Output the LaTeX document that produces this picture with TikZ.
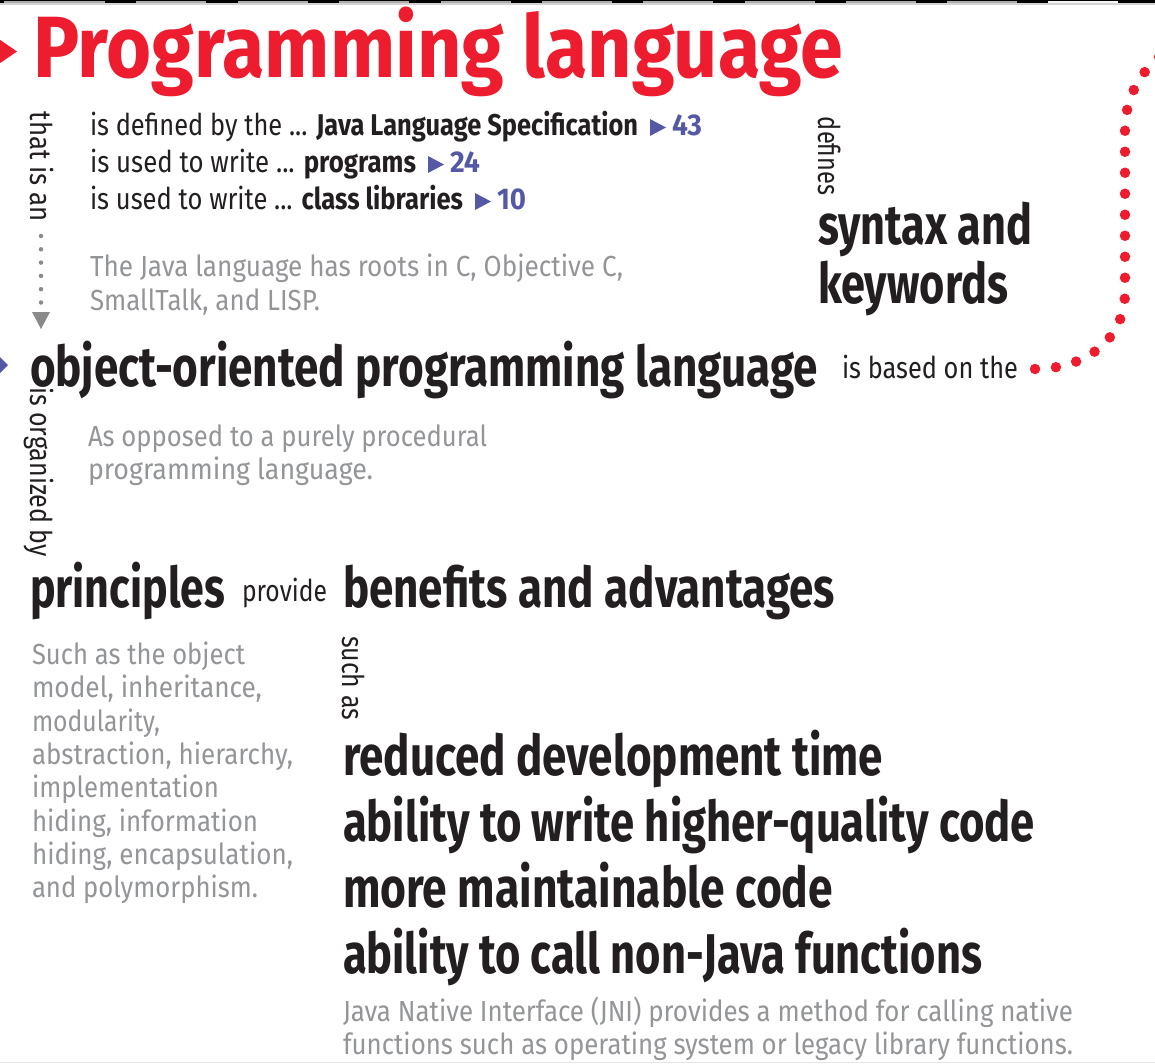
\documentclass[tikz,border=0pt]{standalone}
\usepackage{fontspec}
\setmainfont{Fira Sans}
\usepackage{graphicx}
\usetikzlibrary{calc}
\definecolor{ink}{HTML}{231F20}
\definecolor{jred}{HTML}{ED1C2E}
\definecolor{jblue}{HTML}{5558A5}
\definecolor{greytxt}{HTML}{939598}
\definecolor{dotgrey}{HTML}{8A8A8A}
\newcommand{\fw}[2]{\resizebox{#1pt}{\height}{#2}}
\newcommand{\fTitle}{\fontsize{87}{87}\selectfont\bfseries}
\newcommand{\fBig}{\fontsize{56}{56}\selectfont\bfseries}
\newcommand{\fSm}{\fontsize{30}{30}\selectfont}
\newcommand{\fNote}{\fontsize{29}{29}\selectfont}
\begin{document}
\begin{tikzpicture}[x=1pt,y=-1pt,
  every node/.style={inner sep=0pt,outer sep=0pt},
  txt/.style={anchor=base west,text=ink},
  rtxt/.style={anchor=base west,rotate=-90,text=ink,font=\fSm},
  sm/.style={txt,font=\fSm},
  note/.style={txt,font=\fNote,text=greytxt},
  big/.style={txt,font=\fBig},
  ref/.style={txt,font=\fSm\bfseries,text=jblue},
  reddots/.style={draw=jred,line width=10.5pt,line cap=round,dash pattern=on 0pt off 21pt},
  greydots/.style={draw=dotgrey,line width=4.5pt,line cap=round,dash pattern=on 0pt off 13.3pt}]
\useasboundingbox (0,0) rectangle (1155,1064);
\fill[white] (0,0) rectangle (1155,1064);
% top strip
\fill[black] (0,0) rectangle (1155,3.5);
\foreach \s/\w in {4/101,136/70,238/70,339/70,441/70,542/70,643/70,745/70,846/70,947/70}
  \fill[gray!65] (\s,0.6) rectangle ++(\w,2.4);
\fill[gray!8] (1048,0.6) rectangle ++(70,2.4);
\fill[gray!35] (0,3.5) rectangle (1155,5.5);
\draw[gray!20,line width=1pt] (0,1062) -- (1155,1062);

% title
\fill[jred] (-2,38.5) -- (17,51.5) -- (-2,64.5) -- cycle;
\node[txt,text=jred,font=\fTitle] (lang) at (33,78) {\fw{810}{Programming language}};

% left vertical label and grey connector
\node[rtxt] (thatis) at (30,112) {\fw{110}{that is an}};
\coordinate (g0) at (41,236);
\coordinate (g1) at (41,304);
\draw[greydots] (g0) -- (g1);
\fill[dotgrey] (32,312) -- (50,312) -- (41,329) -- cycle;

% three lines
\node[sm] (l1) at (90,136) {\fw{548}{is defined by the ... \textbf{Java Language Specification}}};
\fill[jblue] (650,119) -- (666,127.5) -- (650,136) -- cycle;
\node[ref] (r43) at (672,136) {\fw{30}{43}};
\node[sm] (l2) at (90,173) {\fw{326}{is used to write ... \textbf{programs}}};
\fill[jblue] (428,156) -- (444,164.5) -- (428,173) -- cycle;
\node[ref] (r24) at (450,173) {\fw{30}{24}};
\node[sm] (l3) at (90,210) {\fw{373}{is used to write ... \textbf{class libraries}}};
\fill[jblue] (475,193) -- (491,201.5) -- (475,210) -- cycle;
\node[ref] (r10) at (497,210) {\fw{29}{10}};

\node[note] (n1) at (90,277) {\fw{533}{The Java language has roots in C, Objective C,}};
\node[note] (n2) at (90,310) {\fw{230}{SmallTalk, and LISP.}};

% defines / syntax and keywords
\node[rtxt] (defines) at (818,117) {\fw{78}{defines}};
\node[big] (syn1) at (818,245) {\fw{214}{syntax and}};
\node[big] (syn2) at (818,303) {\fw{190}{keywords}};

% object-oriented
\fill[jblue] (-8,349) -- (8,365) -- (-8,381) -- cycle;
\node[big] (oop) at (30,386) {\fw{788}{object-oriented programming language}};
\node[sm] (basedon) at (842,378) {\fw{176}{is based on the}};
\coordinate (rdend) at (1160,56);
\draw[reddots] ($(basedon.base east)+(17,-9)$) .. controls (1085,369) and (1125,340) .. (1125,292) -- (1125,130) .. controls (1125,100) and (1138,75) .. (rdend);

\node[note] (n3) at (88,446) {\fw{399}{As opposed to a purely procedural}};
\node[note] (n4) at (88,479) {\fw{285}{programming language.}};

\node[rtxt] (organized) at (30,387) {\fw{170}{is organized by}};

% principles
\node[big] (princ) at (30,607) {\fw{195}{principles}};
\node[sm] (provide) at (242,601) {\fw{85}{provide}};
\node[big] (benef) at (343,607) {\fw{492}{benefits and advantages}};
\node[rtxt] (suchas) at (342,636) {\fw{84}{such as}};

\node[note] (p1) at (32,664) {\fw{213}{Such as the object}};
\node[note] (p2) at (32,697) {\fw{230}{model, inheritance,}};
\node[note] (p3) at (32,731) {\fw{128}{modularity,}};
\node[note] (p4) at (32,764) {\fw{261}{abstraction, hierarchy,}};
\node[note] (p5) at (32,797) {\fw{187}{implementation}};
\node[note] (p6) at (32,831) {\fw{226}{hiding, information}};
\node[note] (p7) at (32,864) {\fw{261}{hiding, encapsulation,}};
\node[note] (p8) at (32,897) {\fw{226}{and polymorphism.}};

\node[big] (b1) at (343,775) {\fw{540}{reduced development time}};
\node[big] (b2) at (343,841) {\fw{692}{ability to write higher-quality code}};
\node[big] (b3) at (343,907) {\fw{490}{more maintainable code}};
\node[big] (b4) at (343,973) {\fw{639}{ability to call non-Java functions}};

\node[note] (j1) at (343,1021) {\fw{730}{Java Native Interface (JNI) provides a method for calling native}};
\node[note] (j2) at (343,1054) {\fw{730}{functions such as operating system or legacy library functions.}};
\end{tikzpicture}
\end{document}
